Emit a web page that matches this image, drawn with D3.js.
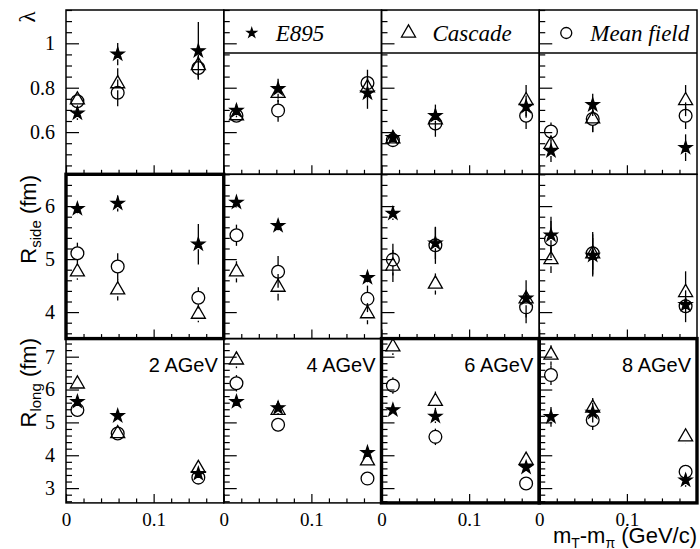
<!DOCTYPE html>
<html>
<head>
<meta charset="utf-8">
<script src="https://cdn.jsdelivr.net/npm/d3@7"></script>
<style>
  body { margin: 0; background: #fff; }
  text { fill: #000; }
  .serif { font-family: 'Liberation Serif', 'Times New Roman', Times, serif; }
  .sans { font-family: 'Liberation Sans', Arial, Helvetica, sans-serif; }
</style>
</head>
<body>
<div id="chart"></div>
<script>
// beam energies, one column each
const energies = ['2 AGeV', '4 AGeV', '6 AGeV', '8 AGeV'];
// mT - m_pi bin centres (GeV/c) per energy
const mtBins = [[0.013, 0.059, 0.151], [0.0145, 0.062, 0.164], [0.013, 0.0615, 0.165], [0.0134, 0.061, 0.167]];

// lambda
const lambdaE895 = [[0.685, 0.951, 0.966], [0.697, 0.795, 0.775], [0.575, 0.674, 0.715], [0.515, 0.723, 0.53]];
const lambdaE895Err = [[0.03, 0.05, 0.13], [0.03, 0.045, 0.07], [0.02, 0.05, 0.05], [0.05, 0.05, 0.06]];
const lambdaCascade = [[0.745, 0.818, 0.90], [0.674, 0.775, 0.80], [0.57, 0.655, 0.742], [0.545, 0.66, 0.742]];
const lambdaCascadeErr = [[0.03, 0.07, 0.05], [0.02, 0.04, 0.05], [0.02, 0.05, 0.07], [0.04, 0.06, 0.07]];
const lambdaMean = [[0.739, 0.777, 0.889], [0.674, 0.697, 0.821], [0.564, 0.639, 0.674], [0.603, 0.659, 0.674]];
const lambdaMeanErr = [[0.03, 0.06, 0.05], [0.02, 0.05, 0.06], [0.02, 0.06, 0.06], [0.04, 0.06, 0.06]];

// R_side (fm)
const sideE895 = [[5.95, 6.05, 5.28], [6.07, 5.63, 4.65], [5.86, 5.30, 4.26], [5.45, 5.07, 4.14]];
const sideE895Err = [[0.1, 0.15, 0.38], [0.1, 0.1, 0.1], [0.12, 0.3, 0.1], [0.35, 0.4, 0.1]];
const sideCascade = [[4.76, 4.42, 3.96], [4.76, 4.47, 3.97], [4.87, 4.53, 4.25], [4.99, 5.1, 4.37]];
const sideCascadeErr = [[0.15, 0.2, 0.15], [0.2, 0.25, 0.2], [0.3, 0.2, 0.35], [0.25, 0.3, 0.4]];
const sideMean = [[5.11, 4.86, 4.27], [5.45, 4.76, 4.25], [4.99, 5.26, 4.09], [5.37, 5.11, 4.11]];
const sideMeanErr = [[0.2, 0.25, 0.2], [0.2, 0.3, 0.25], [0.3, 0.35, 0.3], [0.35, 0.4, 0.3]];

// R_long (fm)
const longE895 = [[5.63, 5.20, 3.44], [5.63, 5.44, 4.08], [5.38, 5.18, 3.63], [5.17, 5.30, 3.24]];
const longE895Err = [[0.15, 0.15, 0.1], [0.15, 0.2, 0.15], [0.15, 0.2, 0.15], [0.3, 0.3, 0.2]];
const longCascade = [[6.17, 4.66, 3.6], [6.9, 5.37, 3.83], [7.30, 5.64, 3.85], [7.05, 5.44, 4.56]];
const longCascadeErr = [[0.2, 0.15, 0.15], [0.25, 0.2, 0.15], [0.25, 0.3, 0.2], [0.3, 0.3, 0.2]];
const longMean = [[5.38, 4.66, 3.32], [6.19, 4.93, 3.29], [6.12, 4.56, 3.14], [6.44, 5.07, 3.5]];
const longMeanErr = [[0.2, 0.15, 0.1], [0.25, 0.2, 0.15], [0.25, 0.25, 0.15], [0.3, 0.3, 0.2]];

// axis ticks
const xMajor = [0, 0.1];
const lambdaTicks = [0.6, 0.8, 1];
const sideTicks = [4, 5, 6];
const longTicks = [3, 4, 5, 6, 7];

const legendNames = ['E895', 'Cascade', 'Mean field'];

const W = 700, H = 549;
const padLeft = 66, padTop = 10, pw = 157.75, ph = 164.3;

const svg = d3.select('#chart').append('svg').attr('width', W).attr('height', H);

const rows = [
  { domain: [0.41, 1.15], majors: lambdaTicks, minorStep: 0.05, fmt: d3.format('~g'),
    series: [[lambdaE895, lambdaE895Err], [lambdaCascade, lambdaCascadeErr], [lambdaMean, lambdaMeanErr]] },
  { domain: [3.5, 6.6], majors: sideTicks, minorStep: 0.2, fmt: d3.format('d'),
    series: [[sideE895, sideE895Err], [sideCascade, sideCascadeErr], [sideMean, sideMeanErr]] },
  { domain: [2.55, 7.55], majors: longTicks, minorStep: 0.2, fmt: d3.format('d'),
    series: [[longE895, longE895Err], [longCascade, longCascadeErr], [longMean, longMeanErr]] }
];

const symTypes = [d3.symbolStar, d3.symbolTriangle, d3.symbolCircle];
const symSizes = [50, 85, 128];
const symGaps = [5, 6.5, 6.4];
const thick = [[1, 0], [2, 2], [2, 3]]; // [row, col] drawn with heavy frame

const x = d3.scaleLinear().domain([0, 0.18]).range([0, pw]);

function minorTicks(domain, step) {
  let out = [];
  let start = Math.ceil(domain[0] / step - 1e-6);
  for (let k = start; k * step <= domain[1] + 1e-9; k++) out.push(+(k * step).toFixed(4));
  return out;
}

rows.forEach(function(row, r) {
  const y = d3.scaleLinear().domain(row.domain).range([ph, 0]);
  const yMinor = minorTicks(row.domain, row.minorStep).filter(v => !row.majors.some(m => Math.abs(m - v) < 1e-6));
  const xMinor = minorTicks([0.001, 0.179], 0.02).filter(v => Math.abs(v - 0.1) > 1e-6);

  energies.forEach(function(en, c) {
    const g = svg.append('g').attr('transform', 'translate(' + (padLeft + c * pw) + ',' + (padTop + r * ph) + ')');

    // ticks on bottom (inward)
    g.append('g').attr('transform', 'translate(0,' + ph + ')')
      .call(d3.axisBottom(x).tickValues(xMinor).tickSizeInner(-4.5).tickSizeOuter(0).tickFormat(''))
      .call(a => a.select('.domain').remove());
    const xb = g.append('g').attr('transform', 'translate(0,' + ph + ')')
      .call(d3.axisBottom(x).tickValues(xMajor).tickSizeInner(-9).tickSizeOuter(0).tickPadding(10)
        .tickFormat(r === 2 ? d3.format('~g') : ''))
      .call(a => a.select('.domain').remove());
    xb.attr('font-family', null).attr('font-size', null);
    xb.selectAll('text').attr('class', 'serif').style('font-size', '19px').attr('fill', '#000');

    // ticks on left (inward)
    g.append('g')
      .call(d3.axisLeft(y).tickValues(yMinor).tickSizeInner(-6).tickSizeOuter(0).tickFormat(''))
      .call(a => a.select('.domain').remove());
    const ya = g.append('g')
      .call(d3.axisLeft(y).tickValues(row.majors).tickSizeInner(-13).tickSizeOuter(0).tickPadding(11)
        .tickFormat(c === 0 ? row.fmt : ''))
      .call(a => a.select('.domain').remove());
    ya.attr('font-family', null).attr('font-size', null);
    ya.selectAll('text').attr('class', 'serif').style('font-size', '20px').attr('fill', '#000');
    g.selectAll('.tick line').attr('stroke', '#000').attr('stroke-width', 1.2);

    // data
    row.series.forEach(function(s, si) {
      const vals = s[0][c], errs = s[1][c];
      const gap = symGaps[si];
      vals.forEach(function(v, i) {
        const cx = x(mtBins[c][i]), cy = y(v);
        const yHi = y(v + errs[i]), yLo = y(v - errs[i]);
        if (cy - gap > yHi) g.append('line').attr('x1', cx).attr('x2', cx).attr('y1', yHi).attr('y2', cy - gap)
          .attr('stroke', '#000').attr('stroke-width', 1.3);
        if (cy + gap < yLo) g.append('line').attr('x1', cx).attr('x2', cx).attr('y1', cy + gap).attr('y2', yLo)
          .attr('stroke', '#000').attr('stroke-width', 1.3);
        g.append('path')
          .attr('d', d3.symbol().type(symTypes[si]).size(symSizes[si])())
          .attr('transform', 'translate(' + cx + ',' + cy + ')')
          .attr('fill', si === 0 ? '#000' : 'none')
          .attr('stroke', '#000').attr('stroke-width', 1.3);
      });
    });

    // energy label
    if (r === 2) {
      g.append('text').attr('class', 'sans').attr('x', pw - 6).attr('y', 33).attr('text-anchor', 'end')
        .style('font-size', '20px').text(en);
    }

    // legend strip
    if (r === 0 && c > 0) {
      const li = c - 1;
      g.append('line').attr('x1', 0).attr('x2', pw).attr('y1', 43).attr('y2', 43)
        .attr('stroke', '#000').attr('stroke-width', 1.5);
      g.append('path')
        .attr('d', d3.symbol().type(symTypes[li]).size([26, 85, 95][li])())
        .attr('transform', 'translate(' + (li === 0 ? 28 : 27) + ',' + 23 + ')')
        .attr('fill', li === 0 ? '#000' : 'none').attr('stroke', '#000').attr('stroke-width', 1.3);
      g.append('text').attr('class', 'serif').attr('x', li === 0 ? 52 : 51).attr('y', 31)
        .style('font-style', 'italic').style('font-size', '23px')
        .text(legendNames[li]);
    }

    // frame
    g.append('rect').attr('x', 0).attr('y', 0).attr('width', pw).attr('height', ph)
      .attr('fill', 'none').attr('stroke', '#000').attr('stroke-width', 1.5);
  });
});

// heavy frames
thick.forEach(function(t) {
  svg.append('rect').attr('x', padLeft + t[1] * pw).attr('y', padTop + t[0] * ph).attr('width', pw).attr('height', ph)
    .attr('fill', 'none').attr('stroke', '#000').attr('stroke-width', 3.4);
});

// axis titles
svg.append('text').attr('class', 'serif').attr('transform', 'translate(35,17) rotate(-90)').attr('text-anchor', 'middle')
  .style('font-size', '23px').text('λ');

function yTitle(sub, yPos) {
  const t = svg.append('text').attr('class', 'sans').attr('transform', 'translate(36,' + yPos + ') rotate(-90)')
    .attr('text-anchor', 'end').style('font-size', '22px');
  t.append('tspan').text('R');
  t.append('tspan').style('font-size', '15px').attr('dy', 5).text(sub);
  t.append('tspan').attr('dy', -5).text(' (fm)');
}
yTitle('side', 175);
yTitle('long', 338);

const xt = svg.append('text').attr('class', 'sans').attr('x', 697).attr('y', 543).attr('text-anchor', 'end')
  .style('font-size', '22px');
xt.append('tspan').text('m');
xt.append('tspan').style('font-size', '14px').attr('dy', 5).text('T');
xt.append('tspan').attr('dy', -5).text('-m');
xt.append('tspan').style('font-size', '14px').attr('dy', 5).text('π');
xt.append('tspan').attr('dy', -5).text(' (GeV/c)');
</script>
</body>
</html>
